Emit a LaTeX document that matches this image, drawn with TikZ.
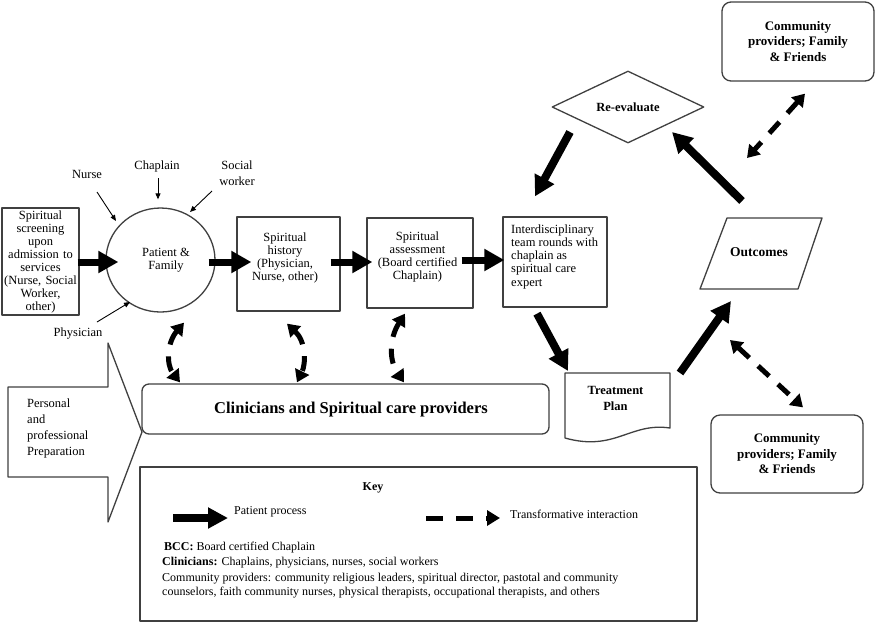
\documentclass[tikz,border=0pt]{standalone}
\usepackage{fontspec}
\setmainfont{Liberation Serif}
\usetikzlibrary{arrows.meta,shapes.geometric,calc}
\begin{document}
\begin{tikzpicture}[x=1pt,y=-1pt,line join=round,
 box/.style={draw=black!75, line width=1.3pt, inner sep=0pt},
 rbox/.style={box, rounded corners=9pt},
 txt/.style={inner sep=0pt, align=center, font=\fontsize{12.5}{13}\selectfont},
 btxt/.style={inner sep=0pt, align=center, font=\bfseries\fontsize{13}{15.5}\selectfont},
 keytxt/.style={inner sep=0pt, anchor=west, font=\fontsize{12}{14}\selectfont},
 parrow/.style={line width=7pt, -{Triangle[length=20pt,width=21pt]}},
 tarrow/.style={line width=5pt, dash pattern=on 15pt off 12pt, {Triangle[length=12pt,width=15pt]}-{Triangle[length=12pt,width=15pt]}},
 lblarrow/.style={line width=0.9pt, -{Triangle[length=6pt,width=5pt]}},
]
\useasboundingbox (0,0) rectangle (875,633);
\fill[white] (0,0) rectangle (875,633);

% main process nodes
\node[box, txt, minimum width=77pt, minimum height=107pt, text width=77pt] (scr) at (40.5,261.5)
 {Spiritual\\screening\\upon\\admission to\\services\\(Nurse, Social\\Worker,\\other)};
\node[box, ellipse, minimum width=109pt, minimum height=104pt] (circ) at (160.5,260) {};
\node[txt] (circt) at (166,260.5) {Patient \&\\Family};
\node[box, minimum width=103pt, minimum height=94pt] (hist) at (288.5,264) {};
\node[txt] (histt) at (285,257.5) {Spiritual\\history\\(Physician,\\Nurse, other)};
\node[box, minimum width=106pt, minimum height=90pt] (assess) at (420,263) {};
\node[txt] (assesst) at (417.5,256.5) {Spiritual\\assessment\\(Board certified\\Chaplain)};
\node[box, minimum width=104pt, minimum height=90pt] (inter) at (555,262) {};
\node[txt, align=left, anchor=west, font=\fontsize{12.5}{13.25}\selectfont] (intert) at (511,256.5)
 {Interdisciplinary\\team rounds with\\chaplain as\\spiritual care\\expert};

\node[box, diamond, minimum width=152pt, minimum height=70pt, font=\bfseries\fontsize{12.5}{14}\selectfont] (reeval) at (628,107) {Re-evaluate};

\node[inner sep=0pt, font=\bfseries\fontsize{13.5}{15}\selectfont] (outc) at (759,252) {Outcomes};
\draw[box] ($(outc)+(-32,-34)$) -- ($(outc)+(63,-34)$) -- ($(outc)+(39,37)$) -- ($(outc)+(-59,37)$) -- cycle;

\node[btxt, font=\bfseries\fontsize{12.5}{16}\selectfont] (treat) at (615.5,398) {Treatment\\Plan};
\draw[box] ($(treat)+(-50.5,-25)$) -- ($(treat)+(54.5,-25)$) -- ($(treat)+(54.5,30)$)
 .. controls ($(treat)+(14.5,24)$) and ($(treat)+(-0.5,54)$) .. ($(treat)+(-50.5,40)$) -- cycle;

\node[rbox, btxt, minimum width=152pt, minimum height=79pt] (comtop) at (798,41.5) {Community\\providers; Family\\\& Friends};
\node[rbox, btxt, minimum width=152pt, minimum height=78pt] (combot) at (787,454) {Community\\providers; Family\\\& Friends};

\node[rbox, rounded corners=7pt, minimum width=407pt, minimum height=50pt] (clin) at (345.5,409) {};
\node[btxt, font=\bfseries\fontsize{16.5}{18}\selectfont] (clint) at (351,410) {Clinicians and Spiritual care providers};

% callout
\draw[box] (8,387) -- (108,387) -- (108,343) -- (142,432) -- (108,522) -- (108,477) -- (8,477) -- cycle;
\node[txt, align=left, anchor=west, font=\fontsize{12.5}{15.7}\selectfont] (prep) at (27,428.5)
 {Personal\\and\\professional\\Preparation};

% labels round the patient
\node[txt] (nurse) at (87,174) {Nurse};
\node[txt] (chap) at (157,166) {Chaplain};
\node[txt, font=\fontsize{12.5}{16}\selectfont] (sw) at (237,173) {Social\\worker};
\node[txt] (phys) at (78,334) {Physician};
\draw[lblarrow] ($(nurse)+(10,18)$) -- ($(circ.center)+(-44.5,-39)$);
\draw[lblarrow] ($(chap)+(1,12)$) -- ($(circ.north)+(-2.5,-8)$);
\draw[lblarrow] ($(sw)+(-25,18)$) -- ($(circ.center)+(29.5,-48)$);
\draw[lblarrow] ($(phys)+(19,-12)$) -- ($(circ.center)+(-30.5,42)$);

% patient process arrows
\draw[parrow] ($(scr.east)+(-2,0.5)$) -- ($(circ.west)+(13,2)$);
\draw[parrow] ($(circ.east)+(-7,2)$) -- ($(hist.west)+(15,-2)$);
\draw[parrow] ($(hist.east)+(-10,-2)$) -- ($(assess.west)+(6,-1)$);
\draw[parrow] ($(assess.east)+(-12,-3)$) -- ($(inter.west)+(2,-2)$);
\draw[parrow, line width=8pt] ($(reeval.center)+(-58,25)$) -- ($(inter.north)+(-20,-20)$);
\draw[parrow, line width=8pt] ($(outc.center)+(-17,-51)$) -- ($(reeval.center)+(44,25)$);
\draw[parrow, line width=8pt] ($(inter.south)+(-18,6)$) -- ($(treat)+(-47.5,-27)$);
\draw[parrow, line width=8pt] ($(treat)+(64.5,-25)$) -- ($(outc.center)+(-28,49)$);

% transformative interactions
\draw[tarrow] ($(comtop.south)+(7,12)$) -- ($(outc.center)+(-12,-94)$);
\draw[tarrow] ($(outc.center)+(-29,88)$) -- ($(combot.north)+(16,-7)$);
\draw[tarrow] ($(circ.south)+(23.5,10)$) .. controls ($(circ.south)+(6.5,30)$) and ($(circ.south)+(5.5,52)$) .. ($(clin.north)+(-165.5,-1)$);
\draw[tarrow] ($(hist.south)+(-1.5,12)$) .. controls ($(hist.south)+(17.5,30)$) and ($(hist.south)+(17.5,52)$) .. ($(clin.north)+(-48.5,-1)$);
\draw[tarrow] ($(assess.south)+(-15,5)$) .. controls ($(assess.south)+(-31,30)$) and ($(assess.south)+(-31,52)$) .. ($(clin.north)+(58.5,-1)$);

% key
\node[box, minimum width=557pt, minimum height=154pt] (key) at (418.5,544) {};
\node[btxt, font=\bfseries\fontsize{12}{14}\selectfont] (keyt) at (373,488) {Key};
\coordinate (kp1) at (173,518);
\coordinate (kp2) at (228,518);
\draw[line width=8pt, -{Triangle[length=20pt,width=20pt]}] (kp1) -- (kp2);
\node[keytxt] (kpl) at (234,512) {Patient process};
\coordinate (kt1) at (426,518);
\coordinate (kt2) at (500,518);
\draw[line width=5pt, dash pattern=on 17pt off 13pt, -{Triangle[length=13pt,width=15pt]}] (kt1) -- (kt2);
\node[keytxt] (ktl) at (510,514) {Transformative interaction};
\node[keytxt] (k1) at (164,548) {\textbf{BCC:} Board certified Chaplain};
\node[keytxt] (k2) at (162,563) {\textbf{Clinicians:} Chaplains, physicians, nurses, social workers};
\node[keytxt] (k3) at (162,579) {Community providers: community religious leaders, spiritual director, pastotal and community};
\node[keytxt] (k4) at (162,593) {counselors, faith community nurses, physical therapists, occupational therapists, and others};
\end{tikzpicture}
\end{document}
